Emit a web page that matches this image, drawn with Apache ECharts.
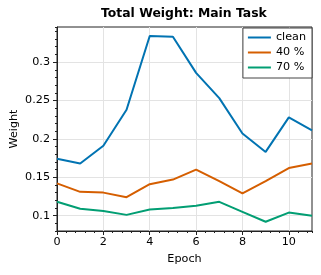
<!DOCTYPE html>
<html>
<head>
<meta charset="utf-8">
<script src="https://cdn.jsdelivr.net/npm/echarts@6/dist/echarts.min.js"></script>
<style>html,body{margin:0;padding:0;background:#fff;}#c{width:321px;height:275px;}</style>
</head>
<body>
<div id="c"></div>
<script>
const epochs = [0, 1, 2, 3, 4, 5, 6, 7, 8, 9, 10, 11];
const clean = [0.174, 0.168, 0.191, 0.238, 0.334, 0.333, 0.286, 0.253, 0.207, 0.183, 0.228, 0.211];
const pct40 = [0.142, 0.131, 0.130, 0.124, 0.141, 0.147, 0.160, 0.145, 0.129, 0.145, 0.162, 0.168];
const pct70 = [0.118, 0.109, 0.106, 0.101, 0.108, 0.110, 0.113, 0.118, 0.105, 0.092, 0.104, 0.100];
const yTicks = [0.1, 0.15, 0.2, 0.25, 0.3];
const yTickLabels = ['0.1', '0.15', '0.2', '0.25', '0.3'];
const xTicks = [0, 2, 4, 6, 8, 10];
const seriesNames = ['clean', '40 %', '70 %'];
const colors = ['#0173B2', '#D55E00', '#029E73'];

const font = 'DejaVu Sans';
const fs = 11.2;
const pairs = arr => epochs.map((e, i) => [e, arr[i]]);

const chart = echarts.init(document.getElementById('c'), null, {renderer: 'canvas'});
chart.setOption({
  animation: false,
  backgroundColor: '#fff',
  title: {
    text: 'Total Weight: Main Task',
    left: 101, top: 7.5,
    padding: 0,
    textStyle: {fontFamily: font, fontSize: 12.4, fontWeight: 'bold', color: '#000'}
  },
  legend: {
    data: seriesNames.map(n => ({name: n, icon: 'path://M0,0 L23,0 L23,2 L0,2 Z'})),
    right: 9, top: 28,
    orient: 'vertical',
    itemWidth: 23, itemHeight: 12, itemGap: 4,
    padding: [4, 6, 5, 5],
    borderColor: '#444', borderWidth: 1, borderRadius: 0,
    backgroundColor: '#fff',
    textStyle: {fontFamily: font, fontSize: fs, color: '#000'}
  },
  grid: {
    left: 57, right: 9, top: 27, bottom: 44,
    outerBoundsMode: 'none', containLabel: false,
    show: true, borderColor: '#222', borderWidth: 1, backgroundColor: 'transparent'
  },
  xAxis: [{
    type: 'value', min: 0, max: 11, interval: 2,
    name: 'Epoch', nameLocation: 'middle', nameGap: 23, nameMoveOverlap: false,
    nameTextStyle: {fontFamily: font, fontSize: fs, color: '#000'},
    axisLine: {show: true, lineStyle: {color: '#222', width: 1}},
    axisTick: {show: true, length: 4, customValues: xTicks, lineStyle: {color: '#222'}},
    axisLabel: {fontFamily: font, fontSize: fs, color: '#000', margin: 6, customValues: xTicks},
    splitLine: {show: true, lineStyle: {color: '#e3e3e3', width: 1}}
  }, {
    type: 'value', min: 0, max: 11, interval: 0.4, position: 'bottom',
    axisLine: {show: false},
    axisTick: {show: true, length: 2, lineStyle: {color: '#222'}},
    axisLabel: {show: false},
    splitLine: {show: false}
  }],
  yAxis: [{
    type: 'value', min: 0.08, max: 0.3457,
    name: 'Weight', nameLocation: 'middle', nameGap: 37, nameMoveOverlap: false,
    nameTextStyle: {fontFamily: font, fontSize: fs, color: '#000'},
    axisLine: {show: true, lineStyle: {color: '#222', width: 1}},
    axisTick: {show: true, length: 4, customValues: yTicks, lineStyle: {color: '#222'}},
    axisLabel: {
      fontFamily: font, fontSize: fs, color: '#000', margin: 7, customValues: yTicks,
      formatter: v => { const i = yTicks.findIndex(t => Math.abs(t - v) < 1e-6); return i >= 0 ? yTickLabels[i] : ''; }
    },
    splitLine: {show: true, lineStyle: {color: '#e3e3e3', width: 1}}
  }, {
    type: 'value', min: 0.08, max: 0.3457, interval: 0.01, position: 'left', offset: 0,
    axisLine: {show: false},
    axisTick: {show: true, length: 2, lineStyle: {color: '#222'}},
    axisLabel: {show: false},
    splitLine: {show: false}
  }],
  series: [clean, pct40, pct70].map((arr, i) => ({
    name: seriesNames[i], type: 'line', data: pairs(arr),
    xAxisIndex: 0, yAxisIndex: 0,
    symbol: 'none', showSymbol: false,
    lineStyle: {color: colors[i], width: 2},
    itemStyle: {color: colors[i]},
    z: 5 - i
  }))
});
</script>
</body>
</html>
